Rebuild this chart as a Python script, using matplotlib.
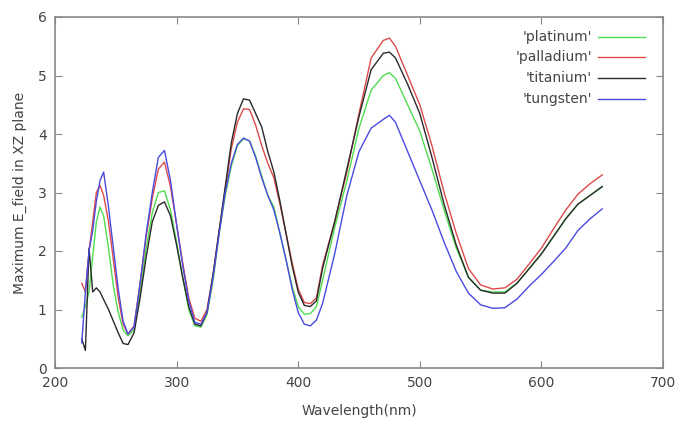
import matplotlib
matplotlib.use("Agg")
import matplotlib.pyplot as plt

wavelength = [222, 225, 228, 231, 234, 237, 240, 244, 248, 252, 256, 260, 265, 270, 275,
              280, 285, 290, 295, 300, 305, 310, 315, 320, 325, 330, 335, 340, 345, 350,
              355, 360, 365, 370, 375, 380, 385, 390, 395, 400, 405, 410, 415, 420, 430,
              440, 450, 460, 470, 475, 480, 490, 500, 510, 520, 530, 540, 550, 560, 570,
              580, 590, 600, 610, 620, 630, 640, 650]

platinum = [0.87, 1.05, 1.30, 1.90, 2.50, 2.75, 2.60, 2.05, 1.40, 0.95, 0.65, 0.55, 0.65, 1.30, 2.05,
            2.65, 3.00, 3.03, 2.70, 2.15, 1.55, 1.00, 0.72, 0.70, 0.92, 1.50, 2.30, 2.95, 3.45, 3.80,
            3.92, 3.88, 3.62, 3.28, 2.95, 2.75, 2.30, 1.85, 1.40, 1.05, 0.92, 0.93, 1.05, 1.50, 2.40,
            3.20, 4.10, 4.75, 5.00, 5.05, 4.95, 4.50, 4.05, 3.40, 2.70, 2.05, 1.55, 1.33, 1.30, 1.30,
            1.45, 1.70, 1.95, 2.25, 2.55, 2.80, 2.95, 3.10]

palladium = [1.45, 1.30, 2.00, 2.50, 3.00, 3.12, 2.95, 2.50, 1.85, 1.20, 0.75, 0.58, 0.72, 1.45, 2.25,
             2.90, 3.40, 3.52, 3.10, 2.45, 1.80, 1.20, 0.85, 0.80, 1.00, 1.60, 2.35, 3.05, 3.75, 4.20,
             4.43, 4.42, 4.15, 3.80, 3.50, 3.25, 2.80, 2.30, 1.80, 1.35, 1.12, 1.10, 1.20, 1.75, 2.50,
             3.35, 4.35, 5.30, 5.60, 5.64, 5.50, 5.00, 4.50, 3.80, 3.00, 2.30, 1.70, 1.42, 1.35, 1.37,
             1.52, 1.78, 2.05, 2.38, 2.70, 2.97, 3.15, 3.30]

titanium = [0.50, 0.30, 2.05, 1.30, 1.37, 1.30, 1.17, 1.00, 0.80, 0.60, 0.42, 0.40, 0.60, 1.20, 1.90,
            2.50, 2.78, 2.84, 2.60, 2.10, 1.55, 1.05, 0.75, 0.72, 0.95, 1.60, 2.35, 3.10, 3.85, 4.35,
            4.60, 4.58, 4.35, 4.12, 3.70, 3.35, 2.85, 2.30, 1.75, 1.30, 1.07, 1.05, 1.15, 1.70, 2.50,
            3.40, 4.30, 5.10, 5.38, 5.40, 5.30, 4.85, 4.35, 3.60, 2.80, 2.10, 1.55, 1.33, 1.28, 1.28,
            1.45, 1.70, 1.95, 2.25, 2.55, 2.80, 2.95, 3.10]

tungsten = [0.43, 1.30, 2.00, 2.35, 2.85, 3.20, 3.35, 2.75, 2.05, 1.35, 0.80, 0.58, 0.70, 1.45, 2.30,
            3.00, 3.60, 3.72, 3.20, 2.45, 1.75, 1.15, 0.78, 0.75, 0.95, 1.55, 2.30, 3.00, 3.50, 3.82,
            3.93, 3.88, 3.60, 3.25, 2.95, 2.70, 2.30, 1.85, 1.35, 0.95, 0.75, 0.72, 0.82, 1.10, 1.95,
            2.95, 3.70, 4.10, 4.25, 4.32, 4.20, 3.70, 3.20, 2.70, 2.15, 1.65, 1.28, 1.08, 1.02, 1.03,
            1.18, 1.40, 1.60, 1.82, 2.05, 2.35, 2.55, 2.72]

series = [("'platinum'", platinum, "#4fdc4f"),
          ("'palladium'", palladium, "#dd4a4a"),
          ("'titanium'", titanium, "#2a2a2a"),
          ("'tungsten'", tungsten, "#4a4ae0")]

x_ticks = [200, 300, 400, 500, 600, 700]
y_ticks = [0, 1, 2, 3, 4, 5, 6]

text_color = "#444444"
frame_color = "#888888"

fig = plt.figure(figsize=(6.82, 4.34), dpi=100)
ax = fig.add_axes([55 / 682, 66 / 434, 608 / 682, 351 / 434])

for name, vals, color in series:
    ax.plot(wavelength, vals, color=color, lw=1.0)

ax.set_xlim(200, 700)
ax.set_ylim(0, 6)
ax.set_xticks(x_ticks)
ax.set_yticks(y_ticks)
ax.tick_params(direction="in", length=5, width=0.8, color=frame_color,
               top=True, right=True, labelsize=10, labelcolor=text_color, pad=6)
for sp in ax.spines.values():
    sp.set_color(frame_color)
    sp.set_linewidth(1.2)

ax.set_xlabel("Wavelength(nm)", fontsize=10, color=text_color, labelpad=10)
ax.set_ylabel("Maximum E_field in XZ plane", fontsize=10, color=text_color, labelpad=8)

# key in the upper right: right-aligned labels followed by line samples
row_y = [0.942, 0.885, 0.826, 0.766]
for (name, vals, color), yy in zip(series, row_y):
    ax.text(0.883, yy, name, transform=ax.transAxes, ha="right", va="center",
            fontsize=10, color=text_color)
    ax.plot([0.893, 0.970], [yy, yy], transform=ax.transAxes, color=color, lw=1.0)

fig.savefig("out.png", dpi=100)
